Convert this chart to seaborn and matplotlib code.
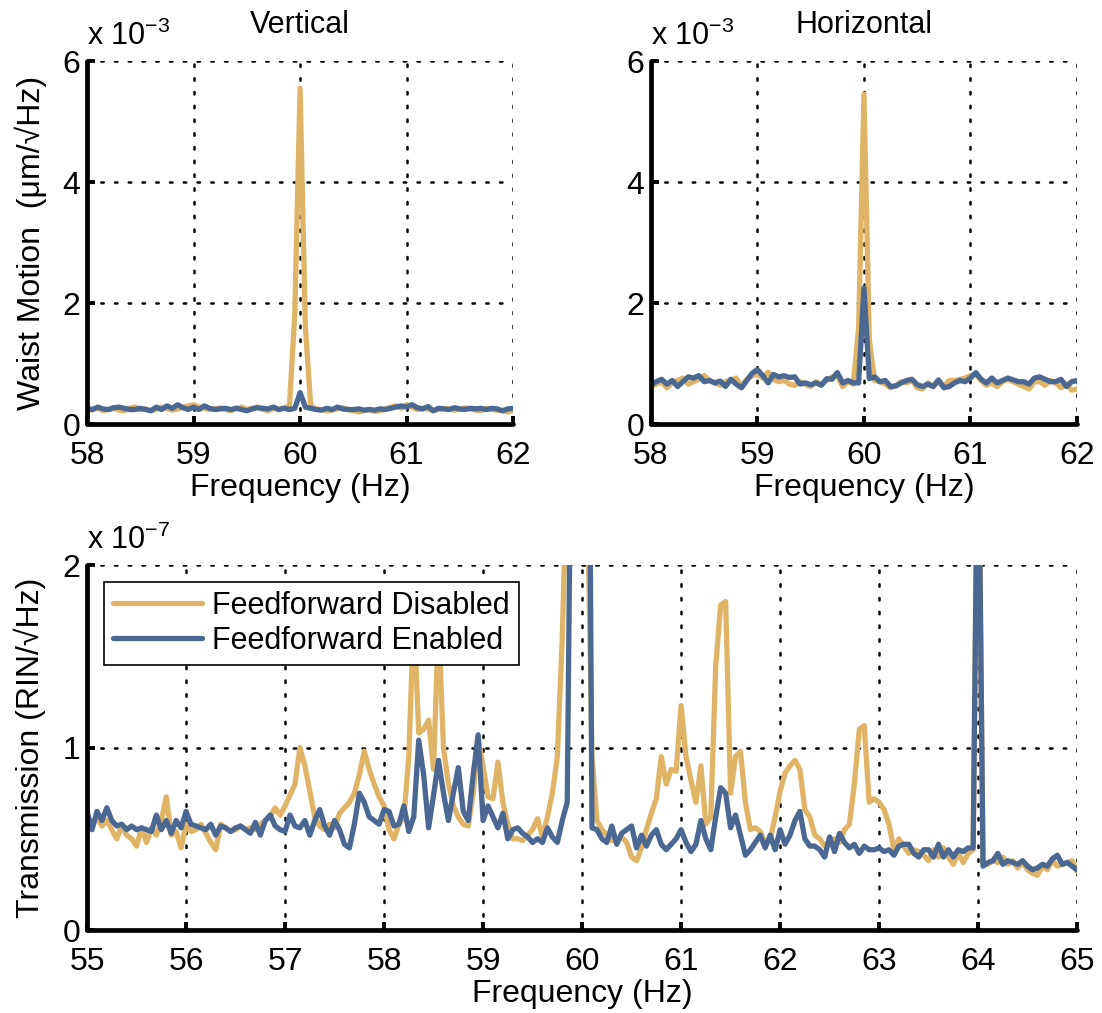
import numpy as np
import pandas as pd
import matplotlib
matplotlib.use("Agg")
import matplotlib.pyplot as plt
import seaborn as sns

# colores de las dos series
ORANGE = "#E0B466"
BLUE = "#4B6892"

# ---- datos panel superior (58-62 Hz, paso 0.05 Hz, unidades de 1e-3) ----
freq_top = np.round(np.arange(58.0, 62.0001, 0.05), 2)

vert_disabled = [
    0.22, 0.24, 0.26, 0.22, 0.24, 0.26, 0.23, 0.22, 0.26, 0.28,
    0.24, 0.25, 0.22, 0.24, 0.28, 0.26, 0.23, 0.25, 0.28, 0.30,
    0.32, 0.28, 0.26, 0.24, 0.25, 0.27, 0.24, 0.22, 0.26, 0.28,
    0.24, 0.26, 0.28, 0.24, 0.22, 0.26, 0.24, 0.27, 0.30, 1.80,
    5.55, 1.60, 0.30, 0.25, 0.24, 0.22, 0.23, 0.25, 0.27, 0.24,
    0.22, 0.20, 0.22, 0.24, 0.21, 0.22, 0.25, 0.28, 0.30, 0.26,
    0.32, 0.28, 0.24, 0.26, 0.25, 0.22, 0.24, 0.26, 0.25, 0.23,
    0.24, 0.27, 0.25, 0.23, 0.22, 0.26, 0.24, 0.23, 0.22, 0.20,
    0.22]
vert_enabled = [
    0.26, 0.24, 0.28, 0.25, 0.24, 0.27, 0.28, 0.26, 0.24, 0.24,
    0.26, 0.24, 0.22, 0.28, 0.24, 0.30, 0.26, 0.32, 0.27, 0.24,
    0.28, 0.24, 0.30, 0.26, 0.24, 0.25, 0.26, 0.24, 0.26, 0.24,
    0.22, 0.25, 0.27, 0.26, 0.25, 0.28, 0.24, 0.26, 0.24, 0.26,
    0.52, 0.28, 0.26, 0.24, 0.23, 0.26, 0.24, 0.28, 0.25, 0.24,
    0.24, 0.25, 0.23, 0.24, 0.23, 0.25, 0.24, 0.26, 0.28, 0.30,
    0.28, 0.32, 0.27, 0.25, 0.29, 0.22, 0.26, 0.25, 0.24, 0.27,
    0.25, 0.24, 0.26, 0.25, 0.26, 0.24, 0.26, 0.25, 0.22, 0.25,
    0.26]
horiz_disabled = [
    0.62, 0.66, 0.70, 0.60, 0.68, 0.72, 0.76, 0.66, 0.70, 0.74,
    0.80, 0.72, 0.68, 0.64, 0.70, 0.72, 0.76, 0.62, 0.74, 0.80,
    0.82, 0.76, 0.86, 0.74, 0.70, 0.72, 0.66, 0.64, 0.70, 0.66,
    0.62, 0.70, 0.66, 0.72, 0.78, 0.80, 0.62, 0.70, 0.66, 1.60,
    5.45, 1.40, 0.72, 0.70, 0.66, 0.60, 0.64, 0.70, 0.68, 0.72,
    0.60, 0.58, 0.68, 0.62, 0.70, 0.62, 0.72, 0.72, 0.74, 0.76,
    0.80, 0.82, 0.72, 0.64, 0.68, 0.62, 0.70, 0.74, 0.70, 0.66,
    0.62, 0.58, 0.70, 0.70, 0.64, 0.72, 0.68, 0.60, 0.66, 0.56,
    0.58]
horiz_enabled = [
    0.65, 0.70, 0.74, 0.66, 0.72, 0.62, 0.70, 0.78, 0.76, 0.80,
    0.70, 0.72, 0.68, 0.71, 0.62, 0.74, 0.66, 0.60, 0.72, 0.84,
    0.90, 0.80, 0.68, 0.82, 0.78, 0.80, 0.77, 0.78, 0.66, 0.68,
    0.65, 0.68, 0.64, 0.75, 0.74, 0.85, 0.68, 0.72, 0.68, 0.68,
    2.25, 0.75, 0.78, 0.70, 0.72, 0.62, 0.63, 0.68, 0.72, 0.74,
    0.65, 0.62, 0.66, 0.62, 0.73, 0.60, 0.62, 0.68, 0.72, 0.70,
    0.76, 0.85, 0.74, 0.68, 0.76, 0.68, 0.72, 0.76, 0.73, 0.70,
    0.70, 0.66, 0.76, 0.78, 0.74, 0.70, 0.70, 0.74, 0.62, 0.70,
    0.72]

# ---- datos panel inferior (55-65 Hz, paso 0.05 Hz, unidades de 1e-7) ----
freq_bot = np.round(np.arange(55.0, 65.0001, 0.05), 2)

trans_disabled = [
    0.55, 0.58, 0.62, 0.57, 0.60, 0.55, 0.50, 0.57, 0.52, 0.50,
    0.46, 0.56, 0.48, 0.56, 0.52, 0.60, 0.73, 0.52, 0.54, 0.45,
    0.58, 0.54, 0.55, 0.58, 0.53, 0.48, 0.44, 0.58, 0.56, 0.54,
    0.55, 0.57, 0.55, 0.56, 0.55, 0.58, 0.60, 0.62, 0.67, 0.63,
    0.68, 0.74, 0.80, 1.00, 0.90, 0.76, 0.62, 0.57, 0.55, 0.58,
    0.56, 0.64, 0.67, 0.70, 0.75, 0.85, 0.98, 0.88, 0.80, 0.73,
    0.68, 0.55, 0.50, 0.58, 0.62, 0.95, 1.75, 1.08, 1.10, 1.15,
    0.88, 1.70, 1.00, 0.80, 0.68, 0.62, 0.58, 0.57, 0.75, 1.05,
    0.90, 0.73, 0.72, 0.92, 0.70, 0.58, 0.50, 0.50, 0.49, 0.52,
    0.55, 0.61, 0.51, 0.62, 0.75, 0.95, 1.60, 2.60, 3.00, 3.00,
    3.00, 2.50, 0.95, 0.60, 0.55, 0.52, 0.49, 0.50, 0.51, 0.48,
    0.40, 0.38, 0.45, 0.55, 0.64, 0.72, 0.95, 0.80, 0.88, 0.87,
    1.23, 0.95, 0.82, 0.70, 0.90, 0.58, 0.62, 1.45, 1.78, 1.80,
    0.75, 0.95, 0.98, 0.70, 0.55, 0.56, 0.54, 0.47, 0.50, 0.62,
    0.76, 0.86, 0.90, 0.93, 0.88, 0.66, 0.62, 0.52, 0.50, 0.46,
    0.49, 0.50, 0.48, 0.55, 0.58, 0.80, 1.10, 1.12, 0.70, 0.72,
    0.70, 0.66, 0.58, 0.44, 0.50, 0.46, 0.42, 0.44, 0.43, 0.41,
    0.38, 0.44, 0.40, 0.45, 0.40, 0.36, 0.42, 0.37, 0.42, 0.44,
    3.00, 0.36, 0.36, 0.38, 0.37, 0.40, 0.36, 0.38, 0.34, 0.37,
    0.33, 0.31, 0.30, 0.35, 0.33, 0.38, 0.35, 0.36, 0.37, 0.38,
    0.32]
trans_enabled = [
    0.65, 0.55, 0.65, 0.60, 0.67, 0.60, 0.57, 0.58, 0.55, 0.57,
    0.55, 0.56, 0.55, 0.54, 0.63, 0.55, 0.60, 0.53, 0.60, 0.56,
    0.65, 0.58, 0.57, 0.56, 0.55, 0.58, 0.52, 0.57, 0.56, 0.54,
    0.56, 0.57, 0.55, 0.53, 0.59, 0.52, 0.60, 0.63, 0.57, 0.55,
    0.54, 0.63, 0.57, 0.56, 0.60, 0.52, 0.60, 0.66, 0.57, 0.52,
    0.60, 0.55, 0.47, 0.45, 0.58, 0.75, 0.70, 0.62, 0.60, 0.58,
    0.66, 0.65, 0.57, 0.58, 0.68, 0.54, 0.62, 1.04, 0.85, 0.56,
    0.74, 0.93, 0.75, 0.60, 0.75, 0.89, 0.65, 0.60, 0.85, 1.07,
    0.60, 0.68, 0.62, 0.56, 0.64, 0.50, 0.55, 0.56, 0.53, 0.51,
    0.48, 0.50, 0.48, 0.56, 0.51, 0.48, 0.60, 0.70, 3.50, 6.00,
    6.00, 5.00, 0.56, 0.55, 0.50, 0.48, 0.57, 0.47, 0.53, 0.55,
    0.57, 0.45, 0.52, 0.46, 0.52, 0.55, 0.47, 0.44, 0.47, 0.50,
    0.55, 0.48, 0.43, 0.47, 0.60, 0.50, 0.44, 0.62, 0.78, 0.75,
    0.56, 0.63, 0.52, 0.41, 0.44, 0.48, 0.52, 0.45, 0.52, 0.44,
    0.55, 0.47, 0.52, 0.60, 0.65, 0.50, 0.46, 0.46, 0.44, 0.40,
    0.51, 0.43, 0.53, 0.48, 0.45, 0.47, 0.42, 0.46, 0.44, 0.44,
    0.45, 0.43, 0.44, 0.41, 0.46, 0.47, 0.47, 0.42, 0.40, 0.44,
    0.44, 0.40, 0.47, 0.40, 0.44, 0.40, 0.44, 0.43, 0.45, 0.45,
    3.00, 0.35, 0.37, 0.38, 0.42, 0.36, 0.38, 0.37, 0.36, 0.38,
    0.35, 0.33, 0.34, 0.36, 0.35, 0.39, 0.41, 0.36, 0.37, 0.35,
    0.33]

labels = ["Feedforward Disabled", "Feedforward Enabled"]

sns.set_style("white")
plt.rcParams["font.family"] = ["Liberation Sans", "DejaVu Sans"]
plt.rcParams["mathtext.fontset"] = "custom"
plt.rcParams["mathtext.rm"] = "Liberation Sans"
plt.rcParams["mathtext.it"] = "Liberation Sans"
plt.rcParams["text.color"] = "black"
plt.rcParams["axes.labelcolor"] = "black"

FS = 23
LW = 3.8


def style_axis(ax, xticks, yticks):
    ax.set_xticks(xticks)
    ax.set_yticks(yticks)
    ax.set_xlim(xticks[0], xticks[-1])
    ax.set_ylim(yticks[0], yticks[-1])
    ax.grid(True, color="black", linestyle=(0, (1, 4.5)), linewidth=1.8,
            dash_capstyle="round")
    ax.set_axisbelow(True)
    for side in ["top", "right"]:
        ax.spines[side].set_visible(False)
    for side in ["left", "bottom"]:
        ax.spines[side].set_linewidth(3.4)
        ax.spines[side].set_color("black")
        ax.spines[side].set_capstyle("round")
    ax.tick_params(direction="in", length=6, width=2.8, labelsize=FS,
                   colors="black", left=True, bottom=True)
    ax.tick_params(axis="x", pad=12)
    ax.tick_params(axis="y", pad=5)


fig = plt.figure(figsize=(11.02, 10.13), dpi=100)
ax_v = fig.add_axes([0.079, 0.5814, 0.3866, 0.3583])
ax_h = fig.add_axes([0.5907, 0.5814, 0.3866, 0.3583])
ax_b = fig.add_axes([0.079, 0.0819, 0.8984, 0.3603])

# paneles superiores
for ax, dis, ena, title in [(ax_v, vert_disabled, vert_enabled, "Vertical"),
                            (ax_h, horiz_disabled, horiz_enabled, "Horizontal")]:
    sns.lineplot(x=freq_top, y=dis, ax=ax, color=ORANGE, linewidth=LW)
    sns.lineplot(x=freq_top, y=ena, ax=ax, color=BLUE, linewidth=LW)
    style_axis(ax, [58, 59, 60, 61, 62], [0, 2, 4, 6])
    ax.set_title(title, fontsize=FS - 1, pad=20)
    ax.set_xlabel("Frequency (Hz)", fontsize=FS, labelpad=2)
    ax.set_ylabel("")
    ax.text(0.0, 1.025, r"x 10$^{\mathregular{-3}}$", transform=ax.transAxes,
            fontsize=FS - 1, ha="left", va="bottom")

ax_v.set_ylabel("Waist Motion  (\u03bcm/\u221aHz)", fontsize=FS, labelpad=11)

# panel inferior
sns.lineplot(x=freq_bot, y=trans_disabled, ax=ax_b, color=ORANGE,
             linewidth=LW, label=labels[0])
sns.lineplot(x=freq_bot, y=trans_enabled, ax=ax_b, color=BLUE,
             linewidth=LW, label=labels[1])
style_axis(ax_b, list(range(55, 66)), [0, 1, 2])
ax_b.set_xlabel("Frequency (Hz)", fontsize=FS, labelpad=2)
ax_b.set_ylabel("Transmission (RIN/\u221aHz)", fontsize=FS, labelpad=12)
ax_b.text(0.0, 1.025, r"x 10$^{\mathregular{-7}}$", transform=ax_b.transAxes,
          fontsize=FS - 1, ha="left", va="bottom")

leg = ax_b.legend(loc="upper left", fontsize=FS - 1, frameon=True,
                  fancybox=False, framealpha=1, edgecolor="black",
                  borderpad=0.3, labelspacing=0.15, handlelength=2.9,
                  handletextpad=0.35, borderaxespad=0.55)
leg.get_frame().set_linewidth(1.2)
for line in leg.get_lines():
    line.set_linewidth(LW)

fig.savefig("out.png", dpi=100)
